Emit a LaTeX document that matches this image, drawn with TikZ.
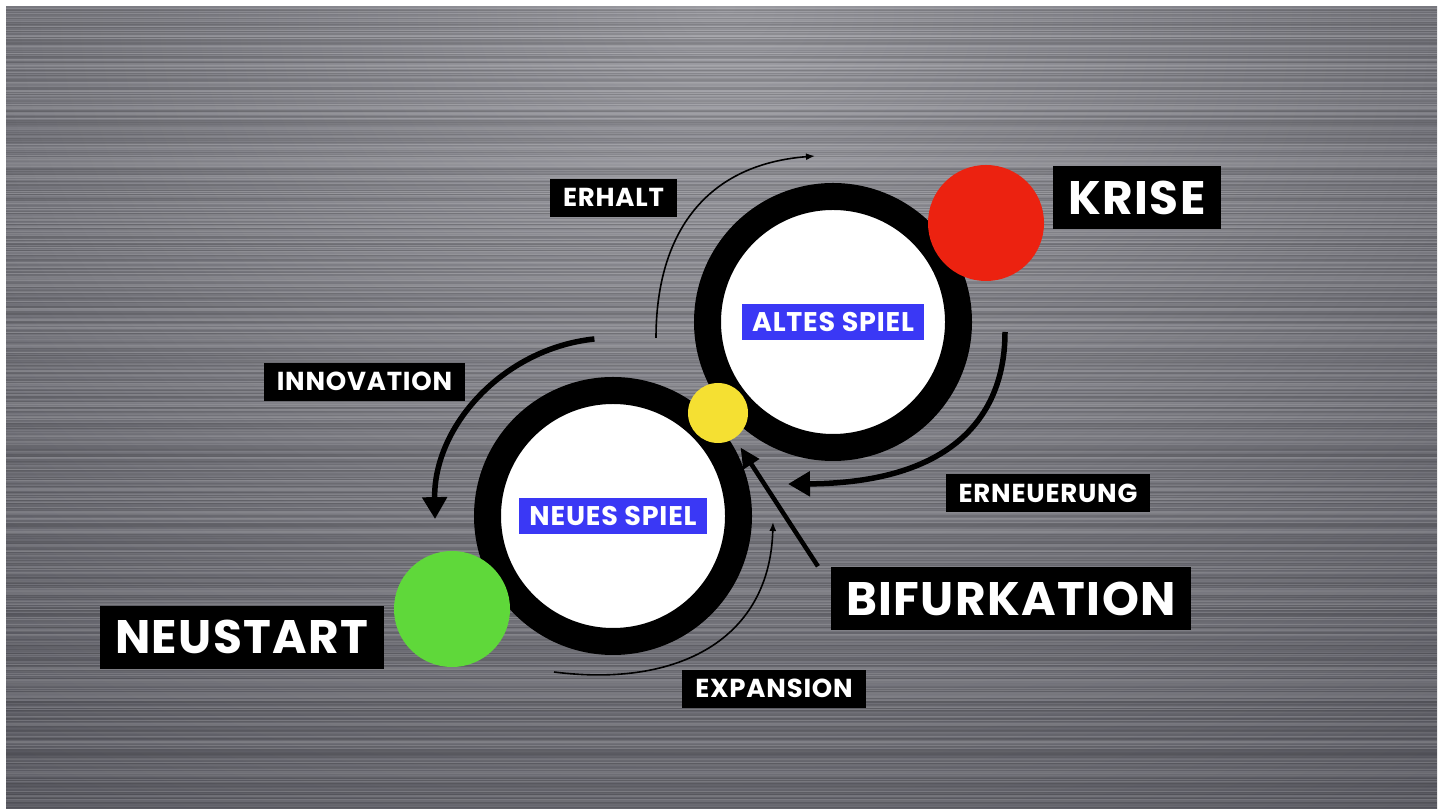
\documentclass[tikz,border=0pt]{standalone}
\usepackage{fontspec}
\setmainfont{Poppins}
\usetikzlibrary{arrows.meta,positioning,calc}
\definecolor{gameblue}{RGB}{58,56,245}
\definecolor{krisered}{RGB}{236,34,16}
\definecolor{startgreen}{RGB}{95,216,58}
\definecolor{bifyellow}{RGB}{245,224,50}
\definecolor{metallight}{RGB}{155,155,161}
\definecolor{metaldark}{RGB}{82,82,90}
\pgfmathdeclarerandomlist{brush}{{white}{black}}

\begin{document}
\begin{tikzpicture}[x=1pt,y=1pt,>=Latex,
 ring/.style={circle,draw=black,line width=27pt,fill=white,minimum size=251pt,inner sep=0pt},
 dot/.style={circle,inner sep=0pt,minimum size=116pt},
 tag/.style={fill=black,text=white,inner xsep=13pt,inner ysep=10pt,text height=18pt,text depth=0pt,
   font=\bfseries\fontsize{26}{26}\selectfont\addfontfeature{LetterSpace=3}},
 bigtag/.style={tag,inner xsep=15pt,inner ysep=15pt,text height=33pt,
   font=\bfseries\fontsize{47}{47}\selectfont\addfontfeature{LetterSpace=3}},
 game/.style={fill=gameblue,text=white,inner xsep=10pt,inner ysep=8.5pt,text height=19pt,text depth=0pt,
   font=\bfseries\fontsize{27}{27}\selectfont\addfontfeature{LetterSpace=3}},
 thick arrow/.style={line width=5.5pt,-{Triangle[length=22pt,width=24pt]}},
 thin arrow/.style={line width=1.6pt,-{Latex[length=9pt,width=7pt]}}]
\useasboundingbox (0,0) rectangle (1450,808);
% brushed metal
\fill[metaldark] (6,0) rectangle (1437,801);
\begin{scope}
\clip (6,0) rectangle (1437,801);
\shade[inner color=metallight,outer color=metaldark] (725,800) ellipse (1450 and 1100);
\pgfmathsetseed{11}
\foreach \k in {1,...,800}{
  \pgfmathsetmacro\op{0.16*rnd}
  \pgfmathrandomitem\cc{brush}
  \draw[\cc,opacity=\op,line width=0.7pt] (6,\k) -- (1437,\k);
}
\end{scope}

% the two games
\node[ring] (altes) at (833,486) {};
\node[ring] (neues) at (613,292) {};
\node[game] at (altes) {ALTES SPIEL};
\node[game] at (neues) {NEUES SPIEL};

\node[dot,fill=krisered] (kdot) at (986,585) {};
\node[dot,fill=startgreen] (ndot) at (452,199) {};
\node[dot,fill=bifyellow,minimum size=60pt] (bif) at (718,395) {};

% labels
\node[bigtag] (krise) at (1137,610) {KRISE};
\node[bigtag] (neustart) at (242,170.5) {NEUSTART};
\node[bigtag] (bifurkation) at (1011,209) {BIFURKATION};
\node[tag] (erhalt) at (613.5,610) {ERHALT};
\node[tag] (innovation) at (364.5,426) {INNOVATION};
\node[tag] (erneuerung) at (1048,314.5) {ERNEUERUNG};
\node[tag] (expansion) at (774,119) {EXPANSION};

% cycle arrows
\coordinate (erhalt a) at (656,470);
\coordinate (erhalt b) at (815,652);
\coordinate (erneu a) at (1005,476);
\coordinate (erneu b) at (788,324);
\coordinate (expan a) at (554,136);
\coordinate (expan b) at (773,286);
\draw[thin arrow] (erhalt a) .. controls (656,568) and (700,643) .. (erhalt b);
\draw[thick arrow] (erneu a) .. controls (1005,390) and (950,325) .. (erneu b);
\draw[thick arrow] (neues) ++(96:178) arc[start angle=96,end angle=181,radius=178];
\draw[thin arrow] (expan a) .. controls (680,120) and (770,170) .. (expan b);
\draw[line width=4.5pt,-{Triangle[length=20pt,width=18pt]},shorten >=11pt]
  ($(bifurkation.north west)+(-13,1)$) -- (bif);
\end{tikzpicture}
\end{document}
